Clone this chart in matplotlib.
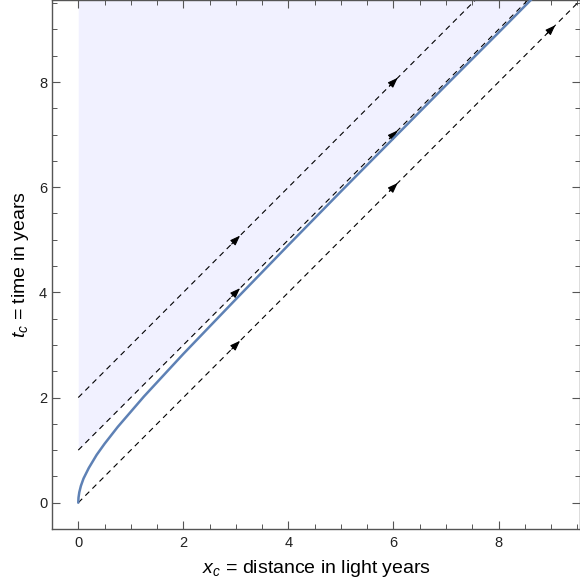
import numpy as np
import matplotlib.pyplot as plt
from matplotlib.ticker import MultipleLocator

plt.rcParams['font.family'] = ['Liberation Sans', 'DejaVu Sans']
plt.rcParams['mathtext.fontset'] = 'custom'
plt.rcParams['mathtext.it'] = 'Liberation Sans:italic'
plt.rcParams['mathtext.rm'] = 'Liberation Sans'

# worldline of the accelerating ship (x in ly, t in years)
ship_x = [0, 0.005, 0.02, 0.05, 0.1, 0.2, 0.35, 0.5, 0.75, 1.0, 1.25, 1.5, 2.0, 2.5,
          3.0, 4.0, 5.0, 6.0, 7.0, 8.0, 9.0, 9.6]
ship_t = [0, 0.10, 0.20, 0.32, 0.46, 0.66, 0.91, 1.12, 1.44, 1.73, 2.02, 2.29, 2.83, 3.35,
          3.87, 4.90, 5.92, 6.93, 7.94, 8.94, 9.95, 10.55]

# light rays t = x + offset, and where their arrows sit
ray_offsets = [0, 1, 2]
arrow_x = [3, 6, 9]
x_end = 9.6
horizon_offset = 1

fig = plt.figure(figsize=(5.8, 5.88), dpi=100)
ax = fig.add_axes([52 / 580, 59 / 588, 528 / 580, 529 / 588])

# shaded region beyond the horizon
xs = np.array([0, x_end])
ax.fill_between(xs, xs + horizon_offset, 12, color='#f1f1ff', lw=0, zorder=0)

for off in ray_offsets:
    ax.plot(xs, xs + off, color='black', lw=0.8, dashes=(5, 4), zorder=2)
    for ax_x in arrow_x:
        d = 0.08
        ax.annotate('', xy=(ax_x + d, ax_x + off + d), xytext=(ax_x - d, ax_x + off - d),
                    arrowprops=dict(arrowstyle='-|>,head_length=0.6,head_width=0.22',
                                    color='black', lw=0.8, shrinkA=0, shrinkB=0),
                    annotation_clip=True, zorder=3)

ax.plot(ship_x, ship_t, color='#5e81b5', lw=1.8, zorder=4, solid_capstyle='round')

ax.set_xlim(-0.5, 9.55)
ax.set_ylim(-0.5, 9.56)
ax.xaxis.set_major_locator(MultipleLocator(2))
ax.xaxis.set_minor_locator(MultipleLocator(0.5))
ax.yaxis.set_major_locator(MultipleLocator(2))
ax.yaxis.set_minor_locator(MultipleLocator(0.5))
ax.tick_params(which='both', direction='in', top=True, right=True, color='#555555',
               labelsize=10.5, labelcolor='#222222')
ax.tick_params(which='major', length=6, width=0.8)
ax.tick_params(which='minor', length=3.5, width=0.7)
ax.tick_params(axis='x', which='major', pad=5)
ax.tick_params(axis='y', which='major', pad=3.5)
for s in ax.spines.values():
    s.set_color('#555555')
    s.set_linewidth(1.0)

ax.set_xlabel('$x_c$ = distance in light years', fontsize=14, labelpad=6)
ax.set_ylabel('$t_c$ = time in years', fontsize=14, labelpad=6)

fig.savefig('out.png', dpi=100)
